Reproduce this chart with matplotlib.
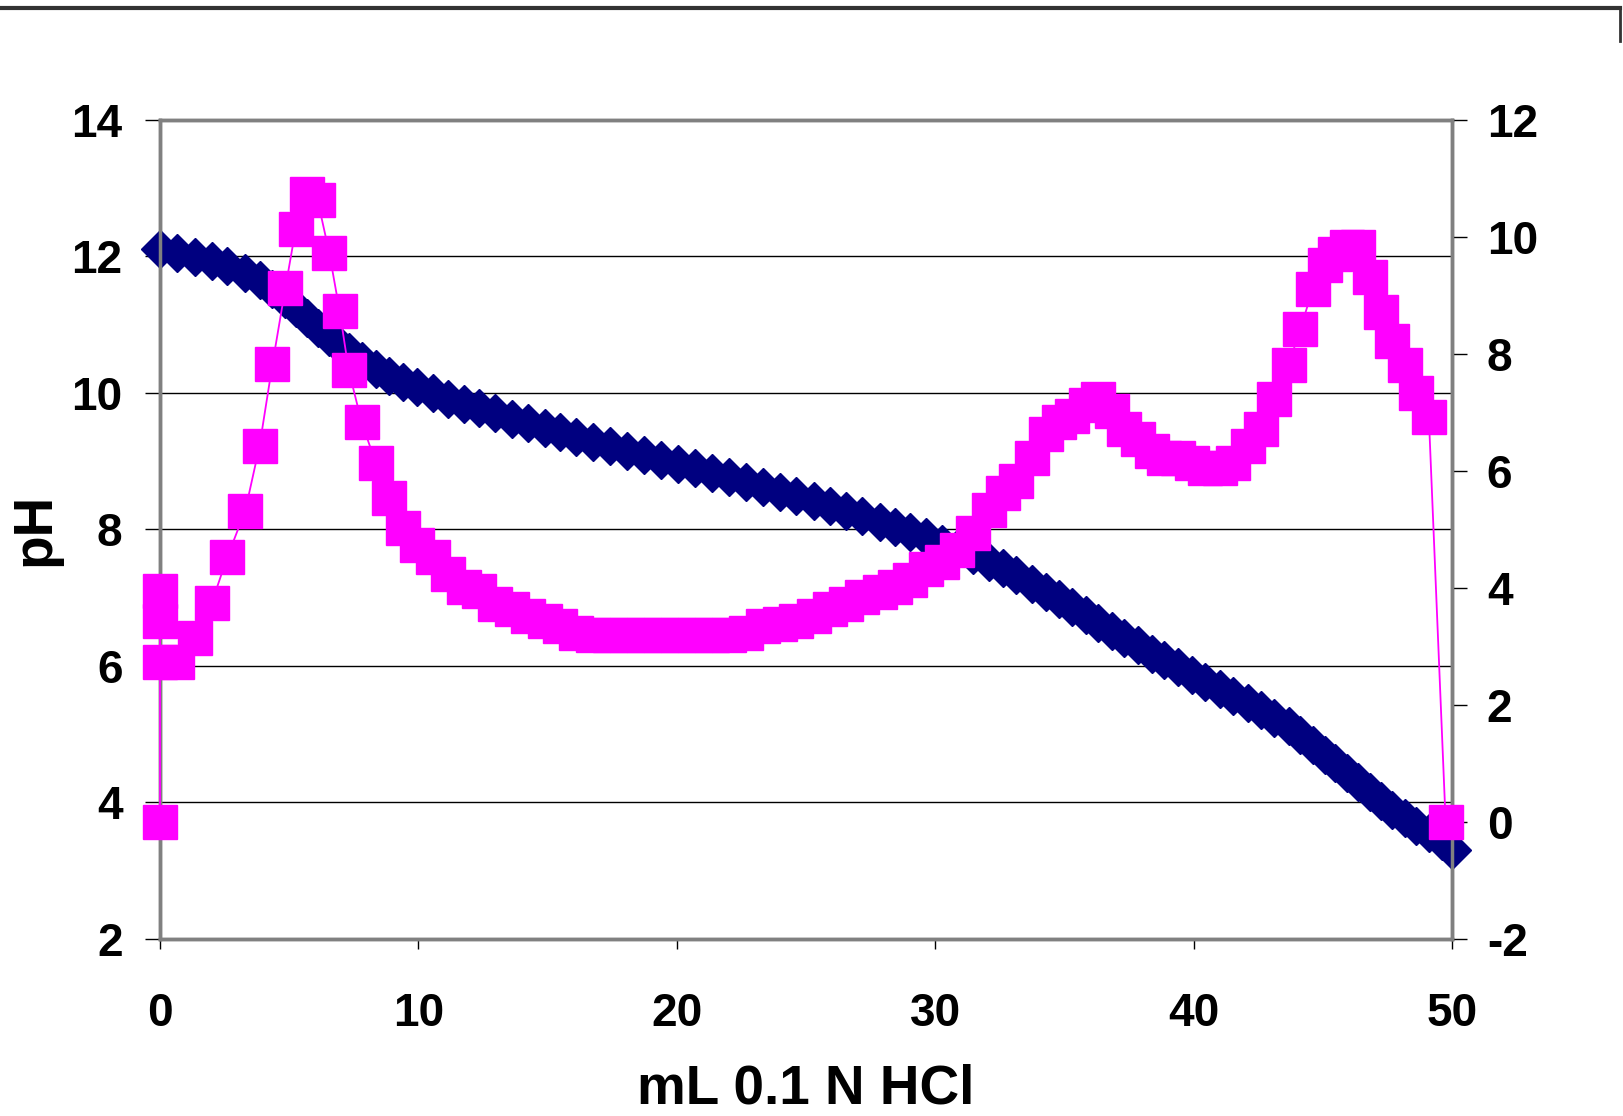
import matplotlib
matplotlib.use("Agg")
import matplotlib.pyplot as plt
from matplotlib.lines import Line2D

# titration curve (left axis, pH)
vol_ph = [0, 0.65, 1.35, 2.0, 2.6, 3.3, 3.85, 4.35, 4.85, 5.25,
          5.7, 6.1, 6.55, 6.95, 7.3, 7.8, 8.35, 8.86, 9.4, 9.95,
          10.56, 11.16, 11.76, 12.35, 12.96, 13.62, 14.24, 14.9, 15.48, 16.1,
          16.76, 17.42, 18.07, 18.73, 19.39, 20.05, 20.71, 21.36, 22.02, 22.68,
          23.34, 23.98, 24.61, 25.3, 25.92, 26.55, 27.17, 27.85, 28.43, 29.04,
          29.66, 30.26, 30.84, 31.46, 32.07, 32.62, 33.14, 33.75, 34.29, 34.77,
          35.3, 35.84, 36.3, 36.84, 37.3, 37.85, 38.4, 38.84, 39.4, 39.94,
          40.45, 41.0, 41.53, 42.1, 42.6, 43.12, 43.67, 44.13, 44.61, 45.07,
          45.48, 45.94, 46.35, 46.81, 47.23, 47.69, 48.16, 48.62, 49.1, 49.6,
          50.0]
ph = [12.10, 12.05, 11.99, 11.93, 11.85, 11.75, 11.65, 11.52, 11.37, 11.24,
      11.09, 10.95, 10.81, 10.69, 10.59, 10.46, 10.34, 10.25, 10.16, 10.08,
      9.99, 9.91, 9.84, 9.77, 9.70, 9.62, 9.55, 9.48, 9.42, 9.35,
      9.28, 9.22, 9.15, 9.09, 9.02, 8.96, 8.89, 8.83, 8.76, 8.69,
      8.62, 8.55, 8.49, 8.41, 8.34, 8.27, 8.20, 8.11, 8.04, 7.96,
      7.88, 7.79, 7.71, 7.62, 7.52, 7.43, 7.33, 7.20, 7.08, 6.98,
      6.86, 6.74, 6.63, 6.51, 6.41, 6.30, 6.18, 6.09, 5.98, 5.87,
      5.77, 5.66, 5.56, 5.45, 5.35, 5.24, 5.12, 4.99, 4.84, 4.70,
      4.57, 4.43, 4.30, 4.15, 4.02, 3.89, 3.77, 3.66, 3.55, 3.43,
      3.30]

# first derivative (right axis)
vol_deriv = [0, 0, 0, 0, 0.65, 1.35, 2.0, 2.6, 3.3, 3.85,
             4.35, 4.85, 5.25, 5.7, 6.1, 6.55, 6.95, 7.3, 7.8, 8.35,
             8.86, 9.4, 9.95, 10.56, 11.16, 11.76, 12.35, 12.96, 13.62, 14.24,
             14.9, 15.48, 16.1, 16.76, 17.42, 18.07, 18.73, 19.39, 20.05, 20.71,
             21.36, 22.02, 22.68, 23.34, 23.98, 24.61, 25.3, 25.92, 26.55, 27.17,
             27.85, 28.43, 29.04, 29.66, 30.26, 30.84, 31.46, 32.07, 32.62, 33.14,
             33.75, 34.29, 34.77, 35.3, 35.84, 36.3, 36.84, 37.3, 37.85, 38.4,
             38.84, 39.4, 39.94, 40.45, 41.0, 41.53, 42.1, 42.6, 43.12, 43.67,
             44.13, 44.61, 45.07, 45.48, 45.94, 46.35, 46.81, 47.23, 47.69, 48.16,
             48.62, 49.1, 49.75]
deriv = [0, 3.94, 3.44, 2.73, 2.73, 3.14, 3.74, 4.52, 5.32, 6.42,
         7.82, 9.12, 10.13, 10.73, 10.62, 9.72, 8.73, 7.72, 6.83, 6.13,
         5.54, 5.03, 4.73, 4.52, 4.23, 4.02, 3.94, 3.72, 3.63, 3.52,
         3.43, 3.34, 3.22, 3.20, 3.20, 3.20, 3.20, 3.20, 3.20, 3.20,
         3.20, 3.20, 3.22, 3.34, 3.38, 3.44, 3.51, 3.63, 3.72, 3.84,
         3.93, 4.02, 4.14, 4.32, 4.44, 4.64, 4.94, 5.33, 5.62, 5.83,
         6.22, 6.62, 6.84, 6.93, 7.13, 7.22, 7.02, 6.71, 6.54, 6.33,
         6.21, 6.21, 6.13, 6.04, 6.04, 6.13, 6.42, 6.71, 7.22, 7.81,
         8.42, 9.11, 9.52, 9.70, 9.83, 9.83, 9.31, 8.72, 8.21, 7.81,
         7.32, 6.92, 0]

x_ticks = [0, 10, 20, 30, 40, 50]
ph_ticks = [2, 4, 6, 8, 10, 12, 14]
deriv_ticks = [-2, 0, 2, 4, 6, 8, 10, 12]

plt.rcParams["font.family"] = ["Liberation Sans", "DejaVu Sans"]
plt.rcParams["font.weight"] = "bold"
plt.rcParams["axes.unicode_minus"] = False

fig = plt.figure(figsize=(16.23, 11.16), dpi=100)
ax = fig.add_axes([0.0986, 0.1586, 0.7961, 0.7343])
ax2 = ax.twinx()

ax.plot(vol_ph, ph, color="#000080", marker="D", markersize=19,
        linewidth=1, clip_on=False, zorder=3)
ax2.plot(vol_deriv, deriv, color="#FF00FF", marker="s", markersize=24,
         linewidth=1.3, clip_on=False, zorder=3)

ax.set_xlim(0, 50)
ax.set_ylim(2, 14)
ax2.set_ylim(-2, 12)
ax.set_xticks(x_ticks)
ax.set_yticks(ph_ticks)
ax2.set_yticks(deriv_ticks)

ax.yaxis.grid(True, color="black", linewidth=1)
ax.set_axisbelow(True)

for a in (ax, ax2):
    for s in a.spines.values():
        s.set_color("#808080")
        s.set_linewidth(2.5)

ax.tick_params(axis="y", direction="out", length=11, width=1, color="black",
               labelsize=33, pad=16)
ax.tick_params(axis="x", direction="out", length=7, width=1, color="black",
               labelsize=33, pad=31)
ax2.tick_params(axis="y", direction="out", length=11, width=1, color="black",
                labelsize=33, pad=14)

ax.set_xlabel("mL 0.1 N HCl", fontsize=39.5, fontweight="bold")
ax.set_ylabel("pH", fontsize=39.5, fontweight="bold")
ax.xaxis.set_label_coords(0.5, -0.152)
ax.yaxis.set_label_coords(-0.076, 0.5)

# slide frame line at the top
fig.add_artist(Line2D([0, 0.998], [0.993, 0.993], color="#333333", linewidth=3))
fig.add_artist(Line2D([0.998, 0.998], [0.993, 0.963], color="#333333", linewidth=2))

fig.savefig("out.png", dpi=100)
